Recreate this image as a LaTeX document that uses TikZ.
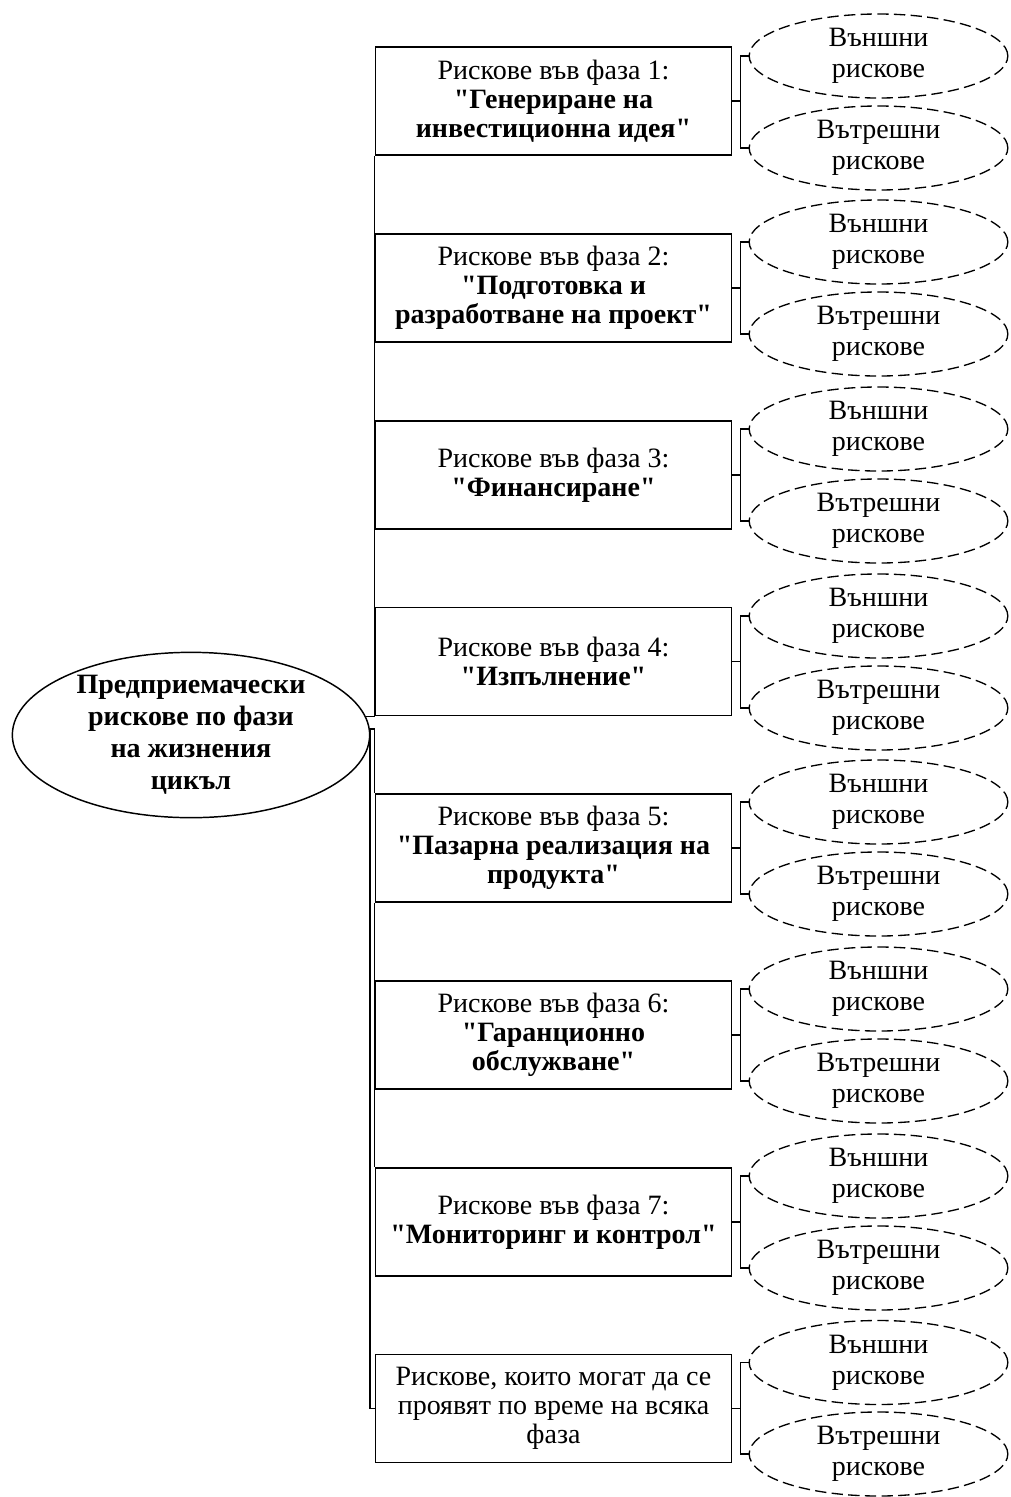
\documentclass[tikz,border=0pt]{standalone}
\usepackage{fontspec}
\setmainfont{Liberation Serif}[Ligatures=TeXOff]
\usetikzlibrary{shapes.geometric}

\tikzset{
  phase/.style={draw, line width=1.4pt, minimum width=267pt, minimum height=81pt,
    inner sep=2pt, align=center, font=\fontsize{21}{21.75}\selectfont},
  riskell/.style={draw, ellipse, line width=1pt, dash pattern=on 8.5pt off 4pt,
    minimum width=194pt, minimum height=63pt, inner sep=0pt, align=center,
    font=\fontsize{21}{23}\selectfont},
  rootell/.style={draw, ellipse, line width=1.1pt, minimum width=268pt, minimum height=124pt,
    inner xsep=0pt, inner ysep=-6pt, align=center, font=\fontsize{21}{24}\selectfont\bfseries},
  link/.style={line width=1.1pt}
}

\begin{document}
\begin{tikzpicture}[x=0.75pt, y=-0.75pt]
    \useasboundingbox (0,0) rectangle (1011,1497);

    \node [rootell] (root) at (191,735) {Предприемачески\\рискове по фази\\на жизнения\\цикъл};

    \node [phase] (b1) at (553.5,101) {Рискове във фаза 1:\\\textbf{"Генериране на}\\\textbf{инвестиционна идея"}};
    \node [phase] (b2) at (553.5,288) {Рискове във фаза 2:\\\textbf{"Подготовка и}\\\textbf{разработване на проект"}};
    \node [phase] (b3) at (553.5,475) {Рискове във фаза 3:\\\textbf{"Финансиране"}};
    \node [phase] (b4) at (553.5,661.5) {Рискове във фаза 4:\\\textbf{"Изпълнение"}};
    \node [phase] (b5) at (553.5,848) {Рискове във фаза 5:\\\textbf{"Пазарна реализация на}\\\textbf{продукта"}};
    \node [phase] (b6) at (553.5,1035) {Рискове във фаза 6:\\\textbf{"Гаранционно}\\\textbf{обслужване"}};
    \node [phase] (b7) at (553.5,1222) {Рискове във фаза 7:\\\textbf{"Мониторинг и контрол"}};
    \node [phase] (b8) at (553.5,1408.5) {Рискове, които могат да се\\проявят по време на всяка\\фаза};

    \node [riskell] (ext1) at (878.5,56) {Външни\\рискове};
    \node [riskell] (int1) at (878.5,148) {Вътрешни\\рискове};
    \node [riskell] (ext2) at (878.5,242) {Външни\\рискове};
    \node [riskell] (int2) at (878.5,334) {Вътрешни\\рискове};
    \node [riskell] (ext3) at (878.5,429) {Външни\\рискове};
    \node [riskell] (int3) at (878.5,521) {Вътрешни\\рискове};
    \node [riskell] (ext4) at (878.5,616) {Външни\\рискове};
    \node [riskell] (int4) at (878.5,708) {Вътрешни\\рискове};
    \node [riskell] (ext5) at (878.5,802) {Външни\\рискове};
    \node [riskell] (int5) at (878.5,894) {Вътрешни\\рискове};
    \node [riskell] (ext6) at (878.5,989) {Външни\\рискове};
    \node [riskell] (int6) at (878.5,1081) {Вътрешни\\рискове};
    \node [riskell] (ext7) at (878.5,1176) {Външни\\рискове};
    \node [riskell] (int7) at (878.5,1268) {Вътрешни\\рискове};
    \node [riskell] (ext8) at (878.5,1362.5) {Външни\\рискове};
    \node [riskell] (int8) at (878.5,1454) {Вътрешни\\рискове};

    \draw [link] (root.6) -| (b1.south west);
    \draw [link] (root.2) -| (b5.north west);
    \draw [link] (b5.south west) -- (b7.north west);
    \draw [link] (root.2) |- (b8.west);

    \draw [link] (b1.east) -- ++(8,0) coordinate (k1) |- (ext1.west) (k1) |- (int1.west);
    \draw [link] (b2.east) -- ++(8,0) coordinate (k2) |- (ext2.west) (k2) |- (int2.west);
    \draw [link] (b3.east) -- ++(8,0) coordinate (k3) |- (ext3.west) (k3) |- (int3.west);
    \draw [link] (b4.east) -- ++(8,0) coordinate (k4) |- (ext4.west) (k4) |- (int4.west);
    \draw [link] (b5.east) -- ++(8,0) coordinate (k5) |- (ext5.west) (k5) |- (int5.west);
    \draw [link] (b6.east) -- ++(8,0) coordinate (k6) |- (ext6.west) (k6) |- (int6.west);
    \draw [link] (b7.east) -- ++(8,0) coordinate (k7) |- (ext7.west) (k7) |- (int7.west);
    \draw [link] (b8.east) -- ++(8,0) coordinate (k8) |- (ext8.west) (k8) |- (int8.west);
\end{tikzpicture}
\end{document}
